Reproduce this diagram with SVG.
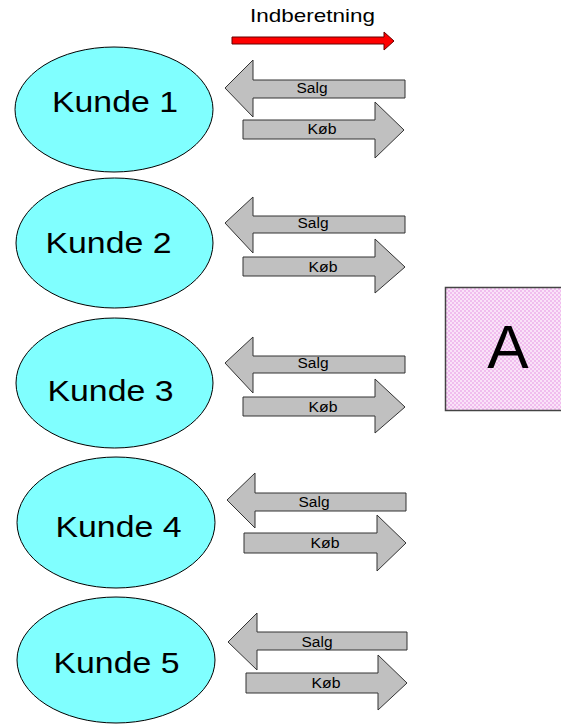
<svg xmlns="http://www.w3.org/2000/svg" width="561" height="725" viewBox="0 0 561 725">
<defs>
<pattern id="dots" width="4" height="4" patternUnits="userSpaceOnUse">
<rect width="4" height="4" fill="#f0bdee"/>
<rect x="0" y="0" width="2" height="2" fill="#fae2f8"/>
<rect x="2" y="2" width="2" height="2" fill="#fae2f8"/>
</pattern>
</defs>
<style>
.kunde{fill:#80ffff;stroke:#000;stroke-width:1}
.kt{font-family:"Liberation Sans",Arial,sans-serif;font-size:30px;fill:#000;text-anchor:middle}
.ba{fill:#c0c0c0;stroke:#333;stroke-width:1}
.bt{font-family:"Liberation Sans",Arial,sans-serif;font-size:14px;fill:#000;text-anchor:middle}
</style>
<rect width="561" height="725" fill="#fff"/>
<g id="indberetning">
<text x="312.5" y="22" font-family="Liberation Sans, Arial, sans-serif" font-size="19" text-anchor="middle" textLength="125" lengthAdjust="spacingAndGlyphs">Indberetning</text>
<polygon points="232,37 384,37 384,32 394,41 384,50 384,44 232,44" fill="#ff0000" stroke="#600" stroke-width="1"/>
</g>
<g id="kunde1"><ellipse class="kunde" cx="114" cy="109.5" rx="99" ry="62.5"/><text class="kt" x="115" y="112" textLength="126" lengthAdjust="spacingAndGlyphs">Kunde 1</text></g>
<g id="kunde2"><ellipse class="kunde" cx="114.5" cy="243" rx="98.5" ry="65"/><text class="kt" x="108.5" y="253" textLength="126" lengthAdjust="spacingAndGlyphs">Kunde 2</text></g>
<g id="kunde3"><ellipse class="kunde" cx="114.5" cy="383" rx="98.5" ry="65"/><text class="kt" x="110.5" y="401" textLength="126" lengthAdjust="spacingAndGlyphs">Kunde 3</text></g>
<g id="kunde4"><ellipse class="kunde" cx="116" cy="522.5" rx="99" ry="65.5"/><text class="kt" x="118.5" y="537" textLength="126" lengthAdjust="spacingAndGlyphs">Kunde 4</text></g>
<g id="kunde5"><ellipse class="kunde" cx="116" cy="660" rx="99" ry="63"/><text class="kt" x="116.5" y="673" textLength="126" lengthAdjust="spacingAndGlyphs">Kunde 5</text></g>
<g id="A">
<rect x="445.5" y="287.5" width="120" height="123" fill="url(#dots)" stroke="#444" stroke-width="1.5"/>
<text x="508" y="368" font-family="Liberation Sans, Arial, sans-serif" font-size="62" text-anchor="middle">A</text>
</g>
<g id="connectors">
<polygon class="ba" points="225,88 253,60 253,80 405,80 405,98 253,98 253,117"/>
<text class="bt" x="312" y="93" textLength="31" lengthAdjust="spacingAndGlyphs">Salg</text>
<polygon class="ba" points="243,120 375,120 375,102 404,130 375,158 375,139 243,139"/>
<text class="bt" x="322" y="134" textLength="29" lengthAdjust="spacingAndGlyphs">Køb</text>

<polygon class="ba" points="225,223 253,197 253,216 405,216 405,233 253,233 253,253"/>
<text class="bt" x="313" y="228" textLength="31" lengthAdjust="spacingAndGlyphs">Salg</text>
<polygon class="ba" points="243,257 375,257 375,239 405,267 375,293 375,276 243,276"/>
<text class="bt" x="323" y="272" textLength="29" lengthAdjust="spacingAndGlyphs">Køb</text>

<polygon class="ba" points="225,363 253,337 253,356 405,356 405,373 253,373 253,393"/>
<text class="bt" x="313" y="368" textLength="31" lengthAdjust="spacingAndGlyphs">Salg</text>
<polygon class="ba" points="243,397 375,397 375,379 405,407 375,433 375,416 243,416"/>
<text class="bt" x="323" y="412" textLength="29" lengthAdjust="spacingAndGlyphs">Køb</text>

<polygon class="ba" points="227,500 255,473 255,493 406,493 406,511 255,511 255,528"/>
<text class="bt" x="314" y="507" textLength="31" lengthAdjust="spacingAndGlyphs">Salg</text>
<polygon class="ba" points="244,533 377,533 377,515 406,543 377,571 377,553 244,553"/>
<text class="bt" x="325" y="548" textLength="29" lengthAdjust="spacingAndGlyphs">Køb</text>

<polygon class="ba" points="228,642 257,613 257,632 407,632 407,650 257,650 257,670"/>
<text class="bt" x="317" y="647" textLength="31" lengthAdjust="spacingAndGlyphs">Salg</text>
<polygon class="ba" points="246,673 378,673 378,655 407,683 378,710 378,693 246,693"/>
<text class="bt" x="326" y="688" textLength="29" lengthAdjust="spacingAndGlyphs">Køb</text>
</g>
</svg>
